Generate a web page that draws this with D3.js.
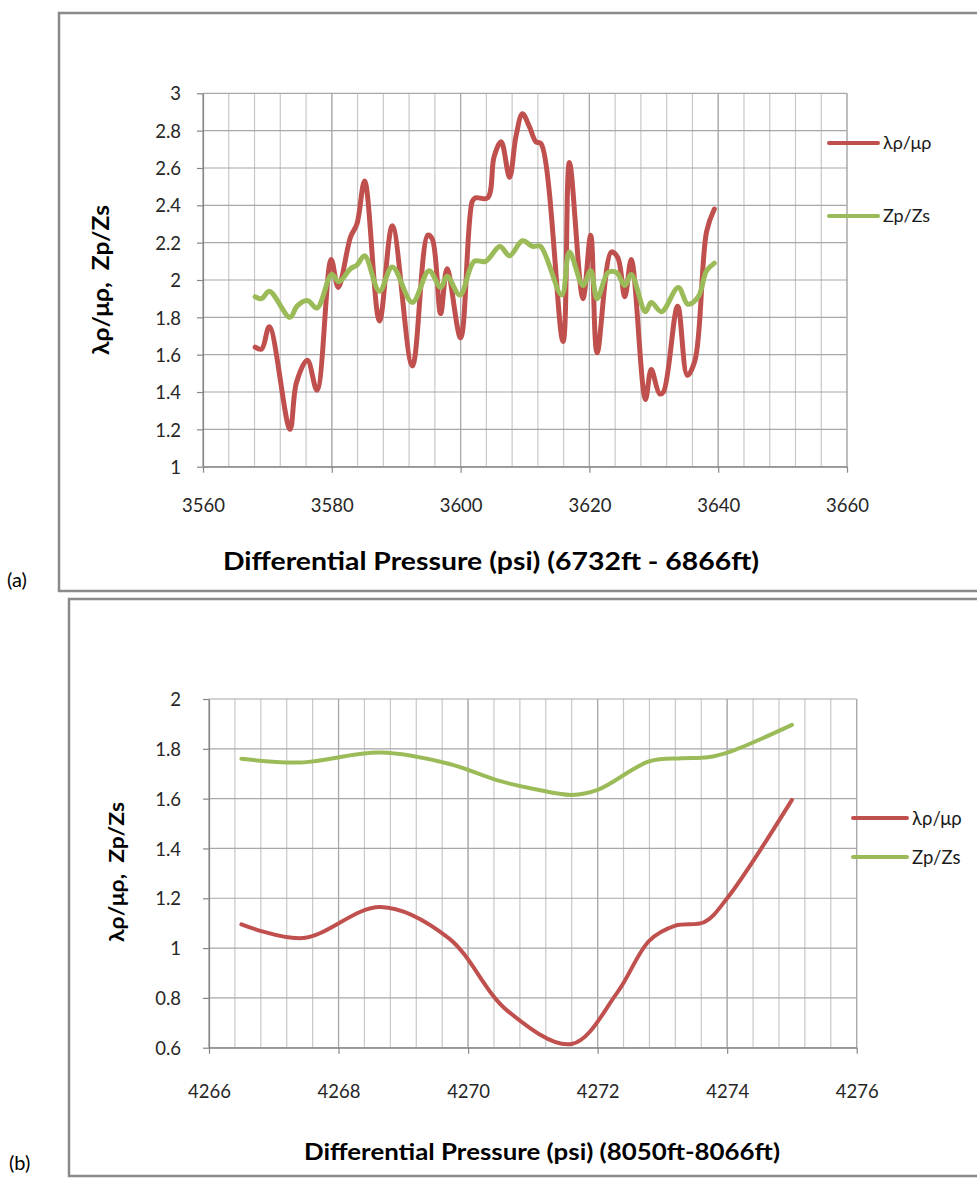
<!DOCTYPE html>
<html>
<head>
<meta charset="utf-8">
<script src="https://cdn.jsdelivr.net/npm/d3@7"></script>
<style>
  html, body { margin: 0; padding: 0; background: #fff; }
  svg { display: block; }
  text { font-family: Lato, "Open Sans", sans-serif; }
</style>
</head>
<body>
<svg id="fig" width="977" height="1180"></svg>
<script>
// ---- Panel (a): 6732ft - 6866ft ----
const pressureA_lambda = [3568.1, 3569.1, 3570.3, 3573.5, 3574.5, 3576.2, 3577.7, 3579.9, 3581.0, 3582.9,
  3583.9, 3585.1, 3587.4, 3589.4, 3592.5, 3594.9, 3595.6, 3596.9, 3597.9, 3600.0,
  3601.8, 3602.3, 3604.2, 3605.2, 3606.3, 3607.6, 3608.6, 3609.6, 3610.7, 3611.7,
  3612.5, 3615.9, 3616.9, 3619.0, 3620.2, 3621.2, 3623.4, 3624.4, 3625.5, 3626.5,
  3628.7, 3629.6, 3630.9, 3631.5, 3633.7, 3635.2, 3636.4, 3638.2, 3639.4];
const lambdaMuA = [1.64, 1.63, 1.75, 1.20, 1.45, 1.57, 1.41, 2.11, 1.96, 2.23,
  2.30, 2.53, 1.78, 2.29, 1.54, 2.24, 2.22, 1.82, 2.06, 1.69,
  2.42, 2.44, 2.44, 2.66, 2.74, 2.55, 2.77, 2.89, 2.82, 2.74,
  2.73, 1.67, 2.63, 1.90, 2.24, 1.61, 2.15, 2.12, 1.91, 2.11,
  1.36, 1.52, 1.39, 1.40, 1.86, 1.49, 1.57, 2.26, 2.38];

const pressureA_z = [3568.1, 3569.1, 3570.3, 3573.5, 3574.6, 3576.2, 3577.7, 3580.0, 3581.1, 3582.9,
  3583.9, 3585.1, 3587.4, 3589.4, 3592.5, 3595.1, 3596.9, 3597.9, 3599.9, 3602.1,
  3603.9, 3606.1, 3607.6, 3609.6, 3611.2, 3612.4, 3615.7, 3616.9, 3619.0, 3620.2,
  3621.2, 3622.9, 3624.2, 3625.5, 3626.5, 3628.7, 3629.6, 3631.2, 3633.8, 3635.3,
  3636.9, 3638.2, 3639.4];
const zpZsA = [1.91, 1.90, 1.94, 1.80, 1.86, 1.89, 1.85, 2.03, 1.99, 2.06,
  2.08, 2.13, 1.94, 2.07, 1.88, 2.05, 1.96, 2.02, 1.92, 2.10,
  2.10, 2.18, 2.13, 2.21, 2.18, 2.18, 1.92, 2.15, 1.97, 2.05,
  1.90, 2.04, 2.04, 1.97, 2.03, 1.83, 1.88, 1.83, 1.96, 1.87,
  1.91, 2.05, 2.09];

const xTicksA = [3560, 3580, 3600, 3620, 3640, 3660];
const yTicksA = [1, 1.2, 1.4, 1.6, 1.8, 2, 2.2, 2.4, 2.6, 2.8, 3];

// ---- Panel (b): 8050ft - 8066ft ----
const pressureB_lambda = [4266.5, 4267.45, 4268.65, 4269.7, 4270.6, 4271.6, 4272.3, 4272.8, 4273.2, 4273.65, 4274.0, 4275.0];
const lambdaMuB = [1.095, 1.04, 1.165, 1.04, 0.75, 0.615, 0.82, 1.03, 1.09, 1.105, 1.2, 1.595];

const pressureB_z = [4266.5, 4267.4, 4268.65, 4269.7, 4270.5, 4271.0, 4271.6, 4272.0, 4272.8, 4273.3, 4273.7, 4274.05, 4275.0];
const zpZsB = [1.76, 1.745, 1.785, 1.74, 1.67, 1.64, 1.615, 1.635, 1.75, 1.762, 1.766, 1.789, 1.896];

const xTicksB = [4266, 4268, 4270, 4272, 4274, 4276];
const yTicksB = [0.6, 0.8, 1, 1.2, 1.4, 1.6, 1.8, 2];

const seriesNames = ["λρ/μρ", "Zp/Zs"];
const seriesColors = ["#C0504D", "#9BBB59"];

const svg = d3.select("#fig");

function drawPanel(cfg) {
  const g = svg.append("g");
  const x = d3.scaleLinear().domain(cfg.xDomain).range(cfg.xRange);
  const y = d3.scaleLinear().domain(cfg.yDomain).range(cfg.yRange);

  // frame around the chart area
  g.append("rect")
    .attr("x", cfg.frame[0]).attr("y", cfg.frame[1])
    .attr("width", cfg.frame[2]).attr("height", cfg.frame[3])
    .attr("fill", "none").attr("stroke", "#8a8a8a").attr("stroke-width", 2.5);

  // minor vertical gridlines
  const minor = d3.range(0, cfg.minorCount + 1).map(i => cfg.xDomain[0] + i * cfg.minorStep);
  g.append("g").selectAll("line").data(minor).join("line")
    .attr("x1", d => x(d)).attr("x2", d => x(d))
    .attr("y1", y.range()[0]).attr("y2", y.range()[1])
    .attr("stroke", "#c8c8c8").attr("stroke-width", 1.2);

  // major vertical gridlines
  g.append("g").selectAll("line").data(cfg.xTicks).join("line")
    .attr("x1", d => x(d)).attr("x2", d => x(d))
    .attr("y1", y.range()[0]).attr("y2", y.range()[1])
    .attr("stroke", "#a8a8a8").attr("stroke-width", 1.2);

  // horizontal gridlines
  g.append("g").selectAll("line").data(cfg.yTicks).join("line")
    .attr("x1", x.range()[0]).attr("x2", x.range()[1])
    .attr("y1", d => y(d)).attr("y2", d => y(d))
    .attr("stroke", "#a8a8a8").attr("stroke-width", 1.2);

  // axes
  const xAxis = d3.axisBottom(x).tickValues(cfg.xTicks).tickSize(6).tickSizeOuter(0).tickFormat(d3.format("d"));
  const yAxis = d3.axisLeft(y).tickValues(cfg.yTicks).tickSize(6).tickSizeOuter(0).tickFormat(d => String(+d.toFixed(1)));

  const gx = g.append("g").attr("transform", `translate(0,${y.range()[0]})`).call(xAxis);
  gx.select(".domain").attr("stroke", "#868686").attr("stroke-width", 1.2);
  gx.selectAll(".tick line").attr("stroke", "#868686").attr("stroke-width", 1.2);
  gx.selectAll(".tick text")
    .attr("y", cfg.xLabelDy).attr("dy", 0)
    .attr("fill", "#262626").attr("font-size", cfg.tickFont);

  const gy = g.append("g").attr("transform", `translate(${x.range()[0]},0)`).call(yAxis);
  gy.select(".domain").attr("stroke", "#868686").attr("stroke-width", 1.2);
  gy.selectAll(".tick line").attr("stroke", "#868686").attr("stroke-width", 1.2);
  gy.selectAll(".tick text")
    .attr("x", -cfg.yLabelGap).attr("dy", "0.36em")
    .attr("fill", "#262626").attr("font-size", cfg.tickFont);
  g.selectAll(".tick text").attr("font-family", "Lato, 'Open Sans', sans-serif");

  // data lines
  const line = d3.line()
    .x(d => x(d[0])).y(d => y(d[1]))
    .curve(d3.curveCatmullRom.alpha(0.5));

  cfg.series.forEach((s, i) => {
    g.append("path")
      .datum(d3.zip(s.x, s.y))
      .attr("d", line)
      .attr("fill", "none")
      .attr("stroke", seriesColors[i])
      .attr("stroke-width", cfg.lineWidth)
      .attr("stroke-linejoin", "round")
      .attr("stroke-linecap", "round");
  });

  // legend
  const lg = g.append("g");
  seriesNames.forEach((name, i) => {
    const ly = cfg.legendY[i];
    lg.append("line")
      .attr("x1", cfg.legendX).attr("x2", cfg.legendX + cfg.legendLen)
      .attr("y1", ly).attr("y2", ly)
      .attr("stroke", seriesColors[i]).attr("stroke-width", cfg.legendWidth)
      .attr("stroke-linecap", "round");
    lg.append("text")
      .attr("x", cfg.legendX + cfg.legendLen + 5).attr("y", ly)
      .attr("dy", "0.36em")
      .attr("font-size", cfg.legendFont).attr("fill", "#1a1a1a")
      .text(name);
  });

  // axis titles
  g.append("text")
    .attr("transform", `translate(${cfg.yTitlePos[0]},${cfg.yTitlePos[1]}) rotate(-90)`)
    .attr("text-anchor", "middle").attr("dy", "0.36em")
    .attr("font-size", cfg.yTitleFont).attr("font-weight", "bold").attr("fill", "#000")
    .attr("xml:space", "preserve")
    .attr("textLength", cfg.yTitleLen).attr("lengthAdjust", "spacingAndGlyphs")
    .text("λρ/μρ,  Zp/Zs");

  g.append("text")
    .attr("x", cfg.xTitlePos[0]).attr("y", cfg.xTitlePos[1])
    .attr("text-anchor", "middle").attr("dy", "0.36em")
    .attr("font-size", cfg.xTitleFont).attr("font-weight", "bold").attr("fill", "#000")
    .attr("textLength", cfg.xTitleLen).attr("lengthAdjust", "spacingAndGlyphs")
    .text(cfg.xTitle);

  // panel tag
  svg.append("text")
    .attr("x", cfg.tagPos[0]).attr("y", cfg.tagPos[1])
    .attr("dy", "0.36em")
    .attr("font-family", cfg.tagFont).attr("font-size", 20).attr("fill", "#000")
    .text(cfg.tag);
}

drawPanel({
  frame: [59, 13, 940, 578],
  xDomain: [3560, 3660], xRange: [203, 847],
  yDomain: [1, 3], yRange: [466.7, 93.3],
  xTicks: xTicksA, yTicks: yTicksA,
  minorStep: 4, minorCount: 25,
  tickFont: 18.5, xLabelDy: 45, yLabelGap: 22,
  lineWidth: 5,
  series: [{ x: pressureA_lambda, y: lambdaMuA }, { x: pressureA_z, y: zpZsA }],
  legendX: 829, legendLen: 49, legendY: [143, 216], legendWidth: 4, legendFont: 18,
  yTitlePos: [101, 280], yTitleFont: 23, yTitleLen: 150,
  xTitlePos: [491, 561], xTitleFont: 25, xTitleLen: 536,
  xTitle: "Differential Pressure (psi) (6732ft - 6866ft)",
  tag: "(a)", tagPos: [7, 580], tagFont: "'Liberation Serif', 'DejaVu Serif', serif"
});

drawPanel({
  frame: [69, 599, 930, 577],
  xDomain: [4266, 4276], xRange: [209, 856.7],
  yDomain: [0.6, 2], yRange: [1047.7, 699],
  xTicks: xTicksB, yTicks: yTicksB,
  minorStep: 0.4, minorCount: 25,
  tickFont: 18.5, xLabelDy: 50, yLabelGap: 28,
  lineWidth: 4,
  series: [{ x: pressureB_lambda, y: lambdaMuB }, { x: pressureB_z, y: zpZsB }],
  legendX: 853, legendLen: 54, legendY: [818, 857], legendWidth: 4, legendFont: 18.5,
  yTitlePos: [117, 872], yTitleFont: 20, yTitleLen: 140,
  xTitlePos: [542, 1152], xTitleFont: 22, xTitleLen: 476,
  xTitle: "Differential Pressure (psi) (8050ft-8066ft)",
  tag: "(b)", tagPos: [9, 1163], tagFont: "'Liberation Sans', Arial, sans-serif"
});
</script>
</body>
</html>
